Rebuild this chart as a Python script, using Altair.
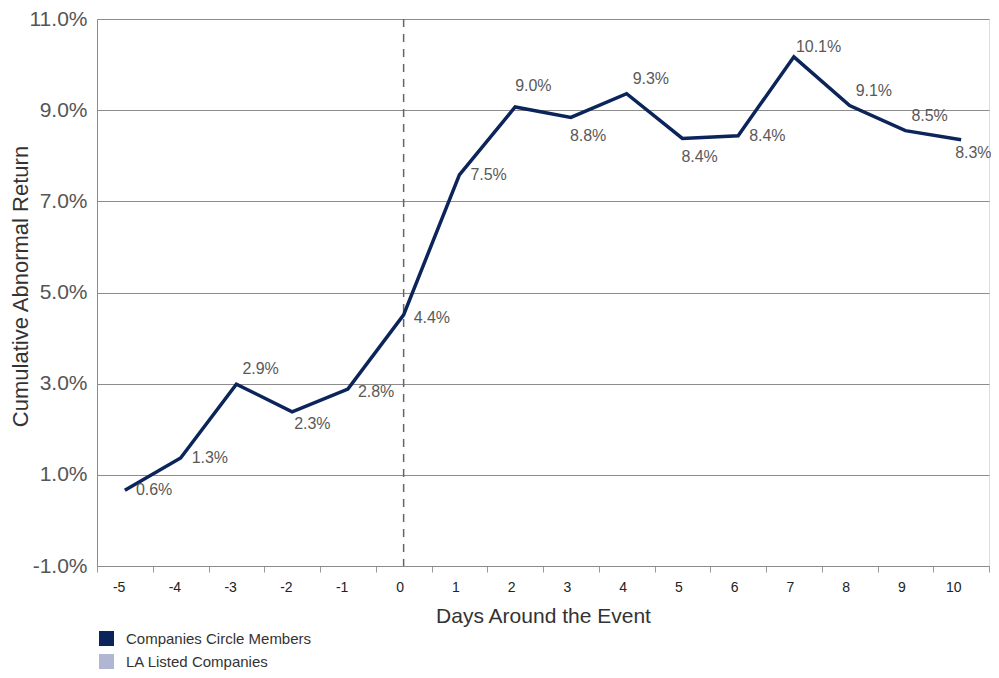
import altair as alt
import pandas as pd

# ---- data ----
DAYS = [-5, -4, -3, -2, -1, 0, 1, 2, 3, 4, 5, 6, 7, 8, 9, 10]
CAR = [0.66, 1.37, 2.99, 2.38, 2.88, 4.51, 7.58, 9.07, 8.84, 9.36, 8.38, 8.44, 10.17, 9.10, 8.55, 8.35]
LABELS = ["0.6%", "1.3%", "2.9%", "2.3%", "2.8%", "4.4%", "7.5%", "9.0%", "8.8%",
          "9.3%", "8.4%", "8.4%", "10.1%", "9.1%", "8.5%", "8.3%"]
SERIES = ["Companies Circle Members", "LA Listed Companies"]
SERIES_COLORS = ["#0b2459", "#b1b6d2"]
Y_TICKS = [-1, 1, 3, 5, 7, 9, 11]

df = pd.DataFrame({"day": DAYS, "car": CAR, "label": LABELS, "series": SERIES[0]})

FONT = "Liberation Sans"
W, H = 892, 547

x_enc = alt.X(
    "day:O",
    scale=alt.Scale(domain=DAYS, paddingInner=0, paddingOuter=0),
    axis=alt.Axis(
        title="Days Around the Event",
        labelAngle=0,
        tickBand="extent",
        tickSize=6,
        tickColor="#9a9a9a",
        domainColor="#8c8c8c",
        labelFontSize=14,
        labelColor="#222222",
        labelPadding=15,
        labelFont=FONT,
        titleFont=FONT,
        titleFontSize=21,
        titleFontWeight="normal",
        titleColor="#333333",
        titleY=56,
        titleBaseline="alphabetic",
        grid=False,
    ),
)
y_enc = alt.Y(
    "car:Q",
    scale=alt.Scale(domain=[-1, 11], nice=False, zero=False),
    axis=alt.Axis(
        title="Cumulative Abnormal Return",
        values=Y_TICKS,
        labelExpr="(datum.value < 0 ? '-' : '') + format(abs(datum.value), '.1f') + '%'",
        ticks=False,
        domainColor="#8c8c8c",
        gridColor="#8c8c8c",
        gridWidth=1,
        labelFontSize=21,
        labelColor="#555555",
        labelPadding=10,
        labelFont=FONT,
        titleFont=FONT,
        titleFontSize=22,
        titleFontWeight="normal",
        titleColor="#333333",
        titleAngle=-90,
        titleAlign="center",
        titleBaseline="middle",
        titleX=-77,
        titleY=267,
    ),
)

base = alt.Chart(df)

line = base.mark_line(strokeWidth=3.5, strokeJoin="miter", color=SERIES_COLORS[0]).encode(
    x=x_enc,
    y=y_enc,
)

legend_src = alt.Chart(pd.DataFrame({"series": SERIES, "day": [DAYS[0], DAYS[0]], "car": [CAR[0], CAR[0]]}))
legend_layer = legend_src.mark_square(size=0, filled=True, opacity=1).encode(
    x=alt.X("day:O"),
    y=alt.Y("car:Q"),
    color=alt.Color(
        "series:N",
        scale=alt.Scale(domain=SERIES, range=SERIES_COLORS),
        legend=alt.Legend(
            title=None,
            orient="none",
            legendX=2,
            legendY=612,
            direction="vertical",
            symbolType="square",
            symbolSize=225,
            symbolStrokeWidth=0,
            symbolOpacity=1,
            labelFontSize=15,
            labelColor="#333333",
            labelFont=FONT,
            labelOffset=12,
            labelLimit=400,
            rowPadding=7,
            padding=0,
        ),
    ),
)

vline = alt.Chart(pd.DataFrame({"d": [0]})).mark_rule(
    color="#666666", strokeWidth=1.5, strokeDash=[8, 7]
).encode(
    x=alt.X("d:O", scale=alt.Scale(domain=DAYS, paddingInner=0, paddingOuter=0)),
    y=alt.value(0),
    y2=alt.value(H),
)

# label placement groups (days) with offsets
GROUPS = [
    ([-5, -4, 1, 6], 11, 0),
    ([-1, 0], 10, 3),
    ([-3, 4, 8, 9], 6, -15),
    ([2], 0, -21),
    ([7], 2, -10),
    ([-2], 2, 12),
    ([10], -6, 13),
    ([3, 5], -1, 19),
]

text_layers = []
for days, dx, dy in GROUPS:
    text_layers.append(
        base.transform_filter(alt.FieldOneOfPredicate(field="day", oneOf=days))
        .mark_text(align="left", baseline="middle", dx=dx, dy=dy,
                   fontSize=16, font=FONT, color="#595959")
        .encode(x=alt.X("day:O"), y=alt.Y("car:Q"), text="label:N")
    )

chart = alt.layer(vline, line, legend_layer, *text_layers).properties(
    width=W,
    height=H,
    autosize=alt.AutoSizeParams(type="none"),
    padding={"left": 89, "top": 11, "right": 2, "bottom": 104},
).configure_view(stroke=None).configure(font=FONT)

chart.save("out.html", embed_options={"renderer": "svg", "actions": False})
